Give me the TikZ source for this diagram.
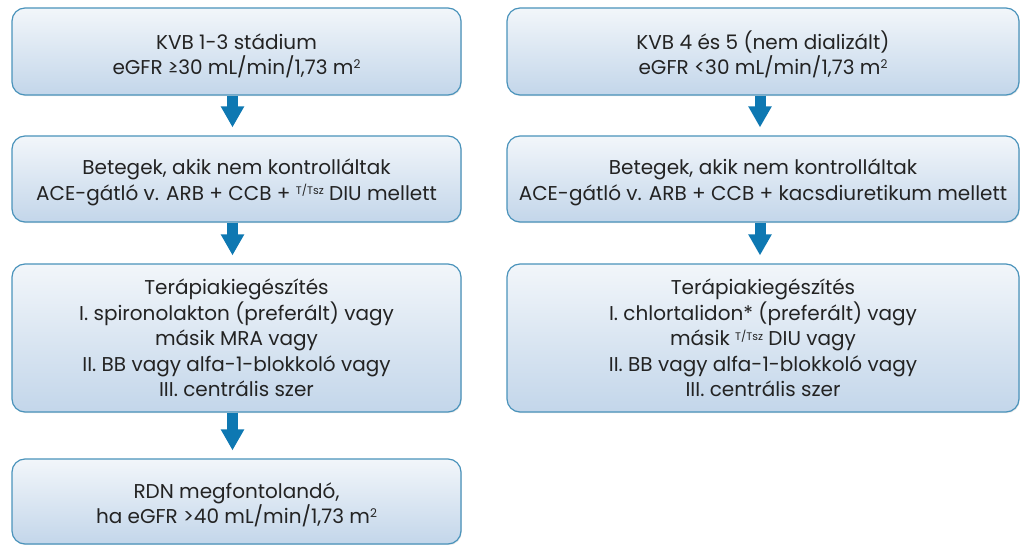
\documentclass[tikz,border=0pt]{standalone}
\usepackage{fontspec}
\setmainfont{Poppins}
\usetikzlibrary{arrows.meta,shadows}
\definecolor{boxedge}{HTML}{4A93BB}
\definecolor{boxtop}{HTML}{F2F6FA}
\definecolor{boxbot}{HTML}{C3D6EA}
\definecolor{arrowblue}{HTML}{0E78B2}
\definecolor{txt}{HTML}{232323}
\newcommand{\tts}{\raisebox{5.5pt}{\fontsize{11}{11}\selectfont T/Tsz}}
\newcommand{\sqm}{\raisebox{6pt}{\fontsize{12}{12}\selectfont 2}}
\begin{document}
\begin{tikzpicture}[x=1pt,y=-1pt,
  box/.style={draw=boxedge, line width=1.2pt, rounded corners=13pt,
    top color=boxtop, bottom color=boxbot, align=center,
    drop shadow={shadow xshift=0.8pt, shadow yshift=-1.2pt, opacity=0.18},
    font=\fontsize{20}{25.5}\selectfont, text=txt, inner sep=0pt},
  flow/.style={draw=arrowblue, line width=11pt,
    -{Triangle[width=22pt,length=21pt]}, shorten >=8pt}]
\useasboundingbox (0,0) rectangle (1021,545);
% left column
\node[box, minimum width=449, minimum height=87] (l1) at (236.5,51.5)
  {\rule{0pt}{24pt}KVB 1-3 stádium\\eGFR ≥30 mL/min/1,73 m\sqm};
\node[box, minimum width=449, minimum height=86] (l2) at (236.5,179)
  {\rule{0pt}{22pt}Betegek, akik nem kontrolláltak\\ACE-gátló v. ARB + CCB + \tts{} DIU mellett};
\node[box, minimum width=449, minimum height=148] (l3) at (236.5,338)
  {Terápiakiegészítés\\I. spironolakton (preferált) vagy\\másik MRA vagy\\II. BB vagy alfa-1-blokkoló vagy\\III. centrális szer};
\node[box, minimum width=449, minimum height=85] (l4) at (236.5,501.5)
  {\rule{0pt}{22pt}RDN megfontolandó,\\ha eGFR >40 mL/min/1,73 m\sqm};
% right column
\node[box, minimum width=512, minimum height=87] (r1) at (763,51.5)
  {\rule{0pt}{24pt}KVB 4 és 5 (nem dializált)\\eGFR <30 mL/min/1,73 m\sqm};
\node[box, minimum width=512, minimum height=86] (r2) at (763,179)
  {\rule{0pt}{22pt}Betegek, akik nem kontrolláltak\\ACE-gátló v. ARB + CCB + kacsdiuretikum mellett};
\node[box, minimum width=512, minimum height=148] (r3) at (763,338)
  {Terápiakiegészítés\\I. chlortalidon* (preferált) vagy\\másik \tts{} DIU vagy\\II. BB vagy alfa-1-blokkoló vagy\\III. centrális szer};
% arrows
\foreach \a/\b in {l1/l2,l2/l3,l3/l4}
  \draw[flow] ([xshift=-4pt]\a.south) -- ([xshift=-4pt]\b.north);
\foreach \a/\b in {r1/r2,r2/r3}
  \draw[flow] ([xshift=-3pt]\a.south) -- ([xshift=-3pt]\b.north);
\end{tikzpicture}
\end{document}
